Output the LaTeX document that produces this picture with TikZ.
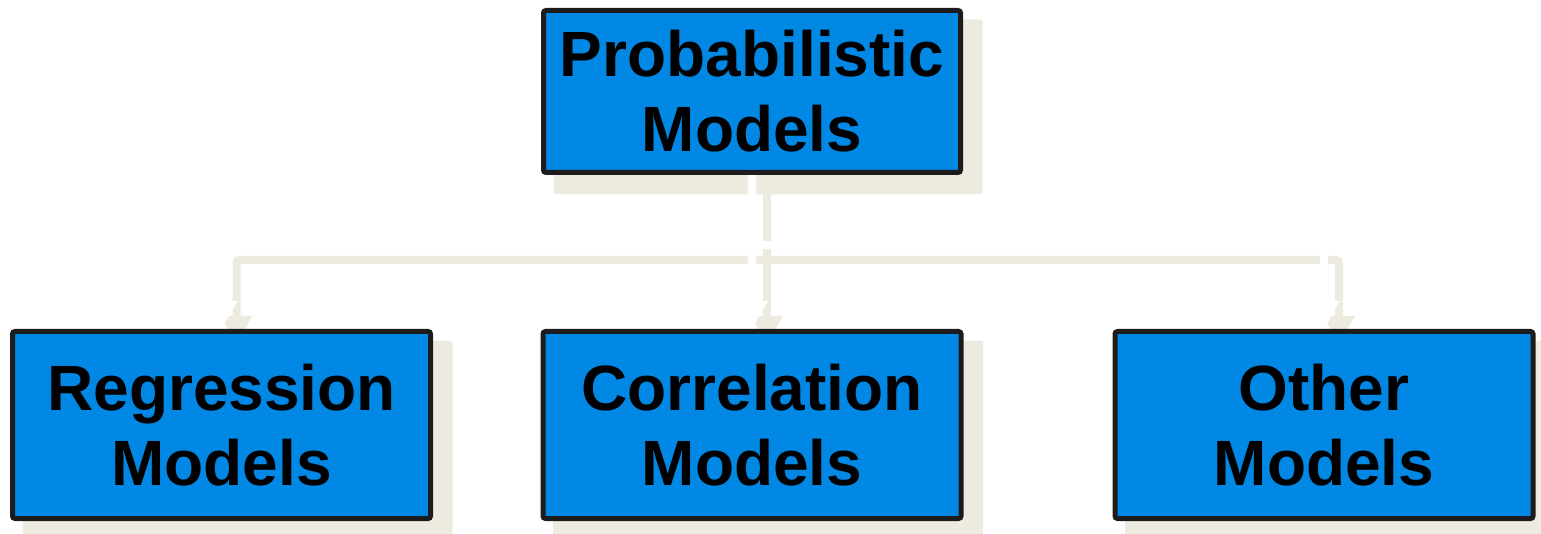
\documentclass[tikz,border=0pt]{standalone}
\usepackage{fontspec}
\setmainfont{Liberation Sans}
\usetikzlibrary{arrows.meta}
\definecolor{boxblue}{RGB}{0,136,228}
\definecolor{shadowcol}{RGB}{237,235,224}
\definecolor{bordercol}{RGB}{28,28,28}
\pgfdeclarelayer{boxshadow}
\pgfdeclarelayer{conns}
\pgfsetlayers{boxshadow,conns,main}
\tikzset{
  modelbox/.style={draw=bordercol, line width=5pt, fill=boxblue, rounded corners=2.5pt,
    text=black, align=center, inner sep=0pt,
    font=\fontsize{64}{75}\selectfont\bfseries},
  topbox/.style={modelbox, minimum width=417pt, minimum height=162pt},
  botbox/.style={modelbox, minimum width=418pt, minimum height=187pt},
  conn/.style={line width=8pt, rounded corners=3pt,
    -{Triangle[length=28pt,width=30pt]}},
}
\begin{document}
\begin{tikzpicture}[x=1pt,y=-1pt]
\useasboundingbox (0,0) rectangle (1541,534);
\node[topbox] (top) at (752,91.5) {Probabilistic\\Models};
\node[botbox] (reg) at (221.5,425) {Regression\\Models};
\node[botbox] (cor) at (752,425) {Correlation\\Models};
\node[botbox] (oth) at (1324,425) {Other\\Models};
\coordinate (j) at (752,245);
\begin{pgfonlayer}{boxshadow}
  \foreach \n in {top,reg,cor,oth}
    \fill[shadowcol, rounded corners=2.5pt] ([shift={(12.5,19.5)}]\n.south west) rectangle ([shift={(19.5,11.5)}]\n.north east);
\end{pgfonlayer}
\begin{pgfonlayer}{conns}
  \begin{scope}[transform canvas={shift={(15pt,-15pt)}}, draw=shadowcol, shadowcol]
    \draw[conn] (top.south) -- (j) -| (reg.north);
    \draw[conn] (j) -| (oth.north);
    \draw[conn] (j) -- (cor.north);
  \end{scope}
  \begin{scope}[draw=white, white]
    \draw[conn] (top.south) -- (j) -| (reg.north);
    \draw[conn] (j) -| (oth.north);
    \draw[conn] (j) -- (cor.north);
  \end{scope}
\end{pgfonlayer}
\end{tikzpicture}
\end{document}
